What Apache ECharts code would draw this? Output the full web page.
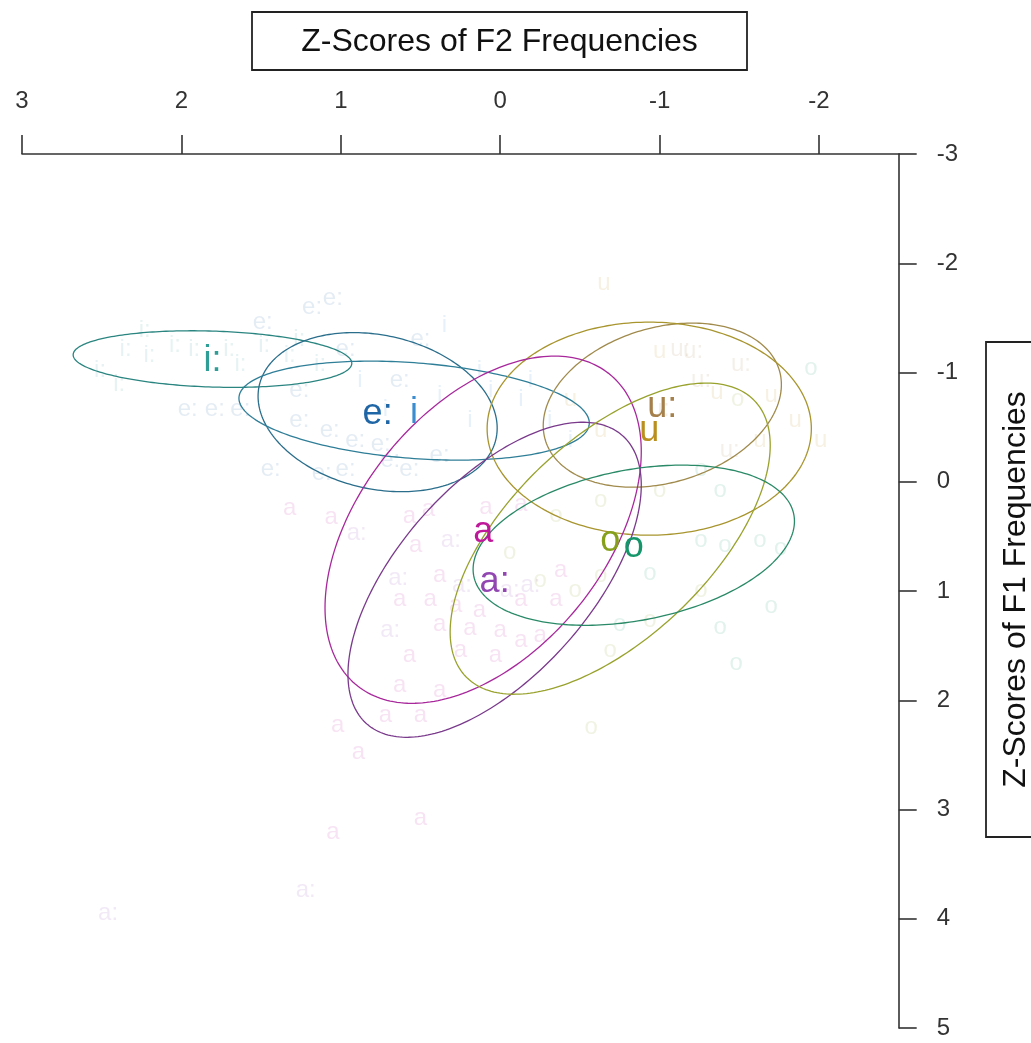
<!DOCTYPE html>
<html><head><meta charset="utf-8">
<script src="https://cdn.jsdelivr.net/npm/echarts@6/dist/echarts.min.js"></script>
<style>html,body{margin:0;padding:0;background:#fff}#c{width:1031px;height:1043px}</style>
</head><body><div id="c"></div>
<script>
// ---- axis ticks ----
const xTicks = [3, 2, 1, 0, -1, -2];
const yTicks = [-3, -2, -1, 0, 1, 2, 3, 4, 5];

// ---- vowels (order shared by all arrays below) ----
const vowels = ['i:', 'e:', 'i', 'u:', 'u', 'a', 'a:', 'o', 'o'];
const labelColors = ['#2E9E96', '#1F66A6', '#3A8ED0', '#A5804A', '#BA8F1E', '#C0189A', '#9146B2', '#86A01C', '#14956A'];
const ellipseColors = ['#2A8580', '#2A6E8C', '#2F7E98', '#A08A4C', '#A8952E', '#A8289C', '#7A3A8C', '#98A22C', '#2A8A68'];

// means (z-score F2, z-score F1)
const meanF2 = [1.805, 0.769, 0.540, -1.017, -0.935, 0.107, 0.035, -0.69, -0.838];
const meanF1 = [-1.123, -0.637, -0.651, -0.701, -0.486, 0.439, 0.897, 0.521, 0.581];
// ellipse spreads and correlation
const sdF2 = [0.874, 0.750, 1.099, 0.747, 1.017, 0.992, 0.920, 1.004, 1.008];
const sdF1 = [0.259, 0.728, 0.453, 0.751, 0.975, 1.589, 1.442, 1.424, 0.733];
const corr = [-0.15, -0.20, -0.25, 0.25, 0.0, 0.45, 0.60, 0.60, 0.30];

// ---- individual tokens [F2, F1] ----
const tok_iLong = [[2.51,-1.02],[2.35,-1.21],[2.20,-1.16],[2.04,-1.25],[1.92,-1.21],[1.70,-1.21],[1.48,-1.25],[1.32,-1.16],[1.13,-1.07],[2.23,-1.39],[2.39,-0.89],[1.63,-1.07],[1.26,-1.30]];
const tok_eLong = [[1.96,-0.66],[1.79,-0.66],[1.63,-0.66],[1.49,-1.46],[1.18,-1.60],[1.05,-1.68],[1.12,-0.08],[1.44,-0.11],[1.26,-0.56],[1.07,-0.47],[0.91,-0.38],[0.69,-0.20],[0.57,-0.11],[0.38,-0.24],[0.97,-0.11],[0.63,-0.93],[0.50,-1.30],[0.97,-1.21],[0.75,-0.34],[1.26,-0.84]];
const tok_iShort = [[0.35,-1.43],[-0.13,-0.75],[-0.19,-0.93],[0.06,-0.84],[0.88,-0.93],[0.19,-0.56],[-0.31,-0.56],[0.38,-0.79],[0.13,-1.02],[0.72,-0.66],[-0.44,-0.38]];
const tok_uLong = [[-1.21,-1.19],[-1.13,-1.21],[-1.44,-0.29],[-1.26,-0.93],[-1.51,-1.07],[-1.00,-0.66]];
const tok_uShort = [[-0.65,-1.82],[-1.00,-1.19],[-1.36,-0.82],[-1.70,-0.79],[-1.85,-0.56],[-2.01,-0.38],[-1.63,-0.38],[-0.63,-0.47],[-0.44,-0.75]];
const tok_aShort = [[1.32,0.24],[1.06,0.33],[0.57,0.32],[0.45,0.25],[0.09,0.23],[-0.13,0.21],[0.53,0.58],[0.38,0.86],[0.63,1.08],[0.44,1.08],[0.28,1.13],[0.13,1.18],[0.38,1.31],[0.19,1.34],[0.00,1.36],[-0.13,1.08],[-0.35,1.08],[-0.38,0.81],[0.57,1.59],[0.63,1.86],[0.38,1.91],[0.25,1.54],[0.72,2.14],[0.50,2.14],[1.02,2.23],[0.89,2.48],[1.05,3.21],[0.50,3.08],[-0.13,1.45],[-0.25,1.41],[0.03,1.59]];
const tok_aLong = [[0.90,0.47],[0.64,0.88],[1.22,3.74],[2.46,3.95],[0.24,0.95],[-0.06,0.99],[0.69,1.36],[0.31,0.54],[-0.19,0.95]];
const tok_oOlive = [[-0.06,0.65],[-0.25,0.90],[-0.47,0.99],[-0.63,0.86],[-0.94,1.27],[-0.69,1.54],[-1.26,0.99],[-0.57,2.25],[-0.63,0.17],[-0.35,0.31],[-1.49,-0.75],[-1.00,0.08]];
const tok_oGreen = [[-0.94,0.84],[-1.26,0.54],[-1.41,0.58],[-1.63,0.54],[-1.76,0.61],[-1.38,1.33],[-1.70,1.14],[-1.48,1.66],[-1.38,0.08],[-1.26,-0.11],[-1.95,-1.04],[-0.75,1.31]];
const tokenSets = [tok_iLong, tok_eLong, tok_iShort, tok_uLong, tok_uShort, tok_aShort, tok_aLong, tok_oOlive, tok_oGreen];

const FONT = 'Arial, "Liberation Sans", sans-serif';

const tokenData = [];
tokenSets.forEach((set, k) => set.forEach(p => tokenData.push([p[0], p[1], k])));
const ellData = vowels.map((v, k) => [meanF2[k], meanF1[k], sdF2[k], sdF1[k], corr[k], k]);
const meanData = vowels.map((v, k) => [meanF2[k], meanF1[k], k]);

const chart = echarts.init(document.getElementById('c'), null, {renderer: 'canvas'});
chart.setOption({
  animation: false,
  backgroundColor: '#fff',
  grid: {left: 22, right: 132.3, top: 154, bottom: 15, containLabel: false},
  xAxis: {
    type: 'value', position: 'top', inverse: true, min: -2.5, max: 3,
    axisLine: {show: true, onZero: false, lineStyle: {color: '#333', width: 1.6}},
    axisTick: {show: true, length: 19, customValues: xTicks, lineStyle: {color: '#333', width: 1.6}},
    axisLabel: {show: true, customValues: xTicks, margin: 41, fontSize: 24, color: '#333', fontFamily: FONT},
    splitLine: {show: false}
  },
  yAxis: {
    type: 'value', position: 'right', inverse: true, min: -3, max: 5, interval: 1,
    axisLine: {show: true, onZero: false, lineStyle: {color: '#333', width: 1.6}},
    axisTick: {show: true, length: 18, lineStyle: {color: '#333', width: 1.6}},
    axisLabel: {show: true, margin: 38, fontSize: 24, color: '#333', fontFamily: FONT, padding: [8, 0, 0, 0]},
    splitLine: {show: false}
  },
  series: [
    {
      type: 'custom', name: 'tokens', data: tokenData, encode: {x: 0, y: 1}, silent: true,
      renderItem: (params, api) => {
        const k = api.value(2);
        const p = api.coord([api.value(0), api.value(1)]);
        return {type: 'text', x: p[0], y: p[1], style: {text: vowels[k], fill: labelColors[k], opacity: 0.12,
          fontSize: 24, fontFamily: FONT, align: 'center', verticalAlign: 'middle'}};
      }
    },
    {
      type: 'custom', name: 'ellipses', data: ellData, encode: {x: 0, y: 1}, silent: true,
      renderItem: (params, api) => {
        const cx = api.value(0), cy = api.value(1), sx = api.value(2), sy = api.value(3), r = api.value(4), k = api.value(5);
        const pts = [];
        const q = Math.sqrt(1 - r * r);
        for (let i = 0; i <= 240; i++) {
          const t = i / 240 * 2 * Math.PI;
          pts.push(api.coord([cx + sx * Math.cos(t), cy + sy * (r * Math.cos(t) + q * Math.sin(t))]));
        }
        return {type: 'polyline', shape: {points: pts}, style: {stroke: ellipseColors[k], fill: null, lineWidth: 1.3}};
      }
    },
    {
      type: 'custom', name: 'means', data: meanData, encode: {x: 0, y: 1}, silent: true,
      renderItem: (params, api) => {
        const k = api.value(2);
        const p = api.coord([api.value(0), api.value(1)]);
        return {type: 'text', x: p[0], y: p[1] + 2, style: {text: vowels[k], fill: labelColors[k],
          fontSize: 36, fontFamily: FONT, align: 'center', verticalAlign: 'middle'}};
      }
    }
  ],
  graphic: [
    {type: 'rect', shape: {x: 252, y: 12, width: 495, height: 58}, style: {fill: '#fff', stroke: '#222', lineWidth: 1.8}},
    {type: 'text', x: 499.5, y: 42, style: {text: 'Z-Scores of F2 Frequencies', fill: '#111', fontSize: 32, fontFamily: FONT, align: 'center', verticalAlign: 'middle'}},
    {type: 'rect', shape: {x: 986, y: 342, width: 58, height: 495}, style: {fill: '#fff', stroke: '#222', lineWidth: 1.8}},
    {type: 'text', x: 1016, y: 589.5, rotation: Math.PI / 2, style: {text: 'Z-Scores of F1 Frequencies', fill: '#111', fontSize: 32, fontFamily: FONT, align: 'center', verticalAlign: 'middle'}}
  ]
});
</script>
</body></html>
